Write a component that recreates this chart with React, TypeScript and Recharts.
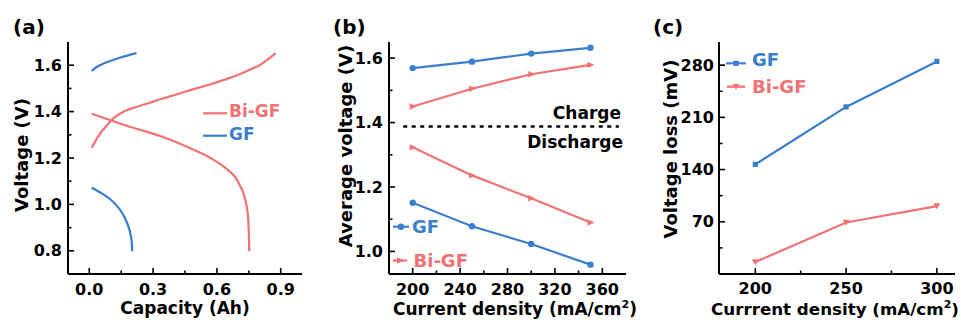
import React from 'react';
import { LineChart, Line, XAxis, YAxis, ReferenceLine } from 'recharts';

const FONT = '"DejaVu Sans", Verdana, sans-serif';
const BLUE = '#3a7ecd';
const RED = '#f07272';

// ---------- (a) charge / discharge curves ----------
const aGfChargeCap = [0.011, 0.03, 0.07, 0.147, 0.222];
const aGfChargeV = [1.575, 1.589, 1.608, 1.633, 1.652];
const aGfDischargeCap = [0.011, 0.04, 0.07, 0.1, 0.125, 0.145, 0.162, 0.176, 0.187, 0.195, 0.2, 0.202];
const aGfDischargeV = [1.072, 1.058, 1.041, 1.021, 0.999, 0.976, 0.951, 0.924, 0.896, 0.866, 0.834, 0.798];
const aBiChargeCap = [0.011, 0.03, 0.054, 0.08, 0.1, 0.124, 0.15, 0.179, 0.225, 0.28, 0.333, 0.41, 0.488, 0.57, 0.644, 0.71, 0.767, 0.8, 0.83, 0.855, 0.876];
const aBiChargeV = [1.244, 1.275, 1.309, 1.338, 1.359, 1.378, 1.394, 1.407, 1.421, 1.437, 1.453, 1.474, 1.496, 1.518, 1.54, 1.562, 1.586, 1.6, 1.619, 1.636, 1.652];
const aBiDischargeCap = [0.011, 0.1, 0.179, 0.26, 0.333, 0.41, 0.488, 0.54, 0.581, 0.62, 0.659, 0.688, 0.706, 0.722, 0.733, 0.741, 0.746, 0.75, 0.752];
const aBiDischargeV = [1.391, 1.363, 1.338, 1.316, 1.295, 1.268, 1.237, 1.215, 1.194, 1.171, 1.143, 1.115, 1.086, 1.055, 1.021, 0.985, 0.949, 0.877, 0.798];
const aXDomain = [-0.1, 1.0];
const aYDomain = [0.7, 1.7];
const aXTicks = [0, 0.15, 0.3, 0.45, 0.6, 0.75, 0.9];
const aXMajor = [0, 0.3, 0.6, 0.9];
const aYTicks = [0.8, 0.9, 1.0, 1.1, 1.2, 1.3, 1.4, 1.5, 1.6];
const aYMajor = [0.8, 1.0, 1.2, 1.4, 1.6];

// ---------- (b) average voltage ----------
const bCurrent = [200, 250, 300, 350];
const bGfCharge = [1.569, 1.589, 1.614, 1.632];
const bBiCharge = [1.45, 1.505, 1.55, 1.579];
const bBiDischarge = [1.323, 1.236, 1.165, 1.09];
const bGfDischarge = [1.151, 1.078, 1.023, 0.959];
const bDivide = 1.388;
const bDivideFrom = 192;
const bDivideTo = 374;
const bXDomain = [180, 380];
const bYDomain = [0.93, 1.65];
const bXTicks = [200, 220, 240, 260, 280, 300, 320, 340, 360];
const bXMajor = [200, 240, 280, 320, 360];
const bYTicks = [1.0, 1.1, 1.2, 1.3, 1.4, 1.5, 1.6];
const bYMajor = [1.0, 1.2, 1.4, 1.6];

// ---------- (c) voltage loss ----------
const cCurrent = [200, 250, 300];
const cGfLoss = [147, 224, 285];
const cBiLoss = [16, 69, 91];
const cXDomain = [180, 310];
const cYDomain = [0, 311];
const cXTicks = [200, 225, 250, 275, 300];
const cXMajor = [200, 250, 300];
const cYTicks = [35, 70, 105, 140, 175, 210, 245, 280];
const cYMajor = [70, 140, 210, 280];

const zip = (xs: number[], ys: number[]) => xs.map((x, i) => ({ x, y: ys[i] }));

const isIn = (arr: number[], v: number) => arr.some((m) => Math.abs(m - v) < 1e-9);

const makeBottomTick = (majors: number[], fmt: (v: number) => string, dy: number) => (props: any) => {
  const { x, y, payload } = props;
  const v = payload.value;
  const major = isIn(majors, v);
  return (
    <g>
      <line x1={x} x2={x} y1={y} y2={y - (major ? 6 : 3.5)} stroke="#000" strokeWidth={1.6} />
      {major && (
        <text x={x} y={y + dy} textAnchor="middle" dominantBaseline="central" fontFamily={FONT} fontWeight="bold" fontSize={16} fill="#000">
          {fmt(v)}
        </text>
      )}
    </g>
  );
};

const makeLeftTick = (majors: number[], fmt: (v: number) => string, dx: number) => (props: any) => {
  const { x, y, payload } = props;
  const v = payload.value;
  const major = isIn(majors, v);
  return (
    <g>
      <line x1={x} x2={x + (major ? 6 : 3.5)} y1={y} y2={y} stroke="#000" strokeWidth={1.6} />
      {major && (
        <text x={x - dx} y={y} textAnchor="end" dominantBaseline="central" fontFamily={FONT} fontWeight="bold" fontSize={16} fill="#000">
          {fmt(v)}
        </text>
      )}
    </g>
  );
};

const frameLine = { stroke: '#000', strokeWidth: 2 };

const FrameAxes = (xDomain: number[], yDomain: number[]) => [
  <XAxis key="xt" xAxisId="top" orientation="top" type="number" domain={xDomain} allowDataOverflow height={0} tick={false} tickLine={false} axisLine={frameLine} />,
  <YAxis key="yr" yAxisId="right" orientation="right" type="number" domain={yDomain} allowDataOverflow width={0} tick={false} tickLine={false} axisLine={frameLine} />,
];

const circleDot = (color: string) => (p: any) => <circle key={`c${p.index}`} cx={p.cx} cy={p.cy} r={3.2} fill={color} stroke="none" />;
const rightTriDot = (color: string) => (p: any) => (
  <path key={`r${p.index}`} d={`M${p.cx + 4},${p.cy} L${p.cx - 3},${p.cy - 3.2} L${p.cx - 3},${p.cy + 3.2} Z`} fill={color} />
);
const squareDot = (color: string) => (p: any) => <rect key={`s${p.index}`} x={p.cx - 2.6} y={p.cy - 2.6} width={5.2} height={5.2} fill={color} />;
const downTriDot = (color: string) => (p: any) => (
  <path key={`d${p.index}`} d={`M${p.cx - 3.5},${p.cy - 2.8} L${p.cx + 3.5},${p.cy - 2.8} L${p.cx},${p.cy + 3.2} Z`} fill={color} />
);

const txt = { fontFamily: FONT, fontWeight: 'bold' as const };

const bData = bCurrent.map((c, i) => ({ c, gfC: bGfCharge[i], biC: bBiCharge[i], biD: bBiDischarge[i], gfD: bGfDischarge[i] }));
const cData = cCurrent.map((c, i) => ({ c, gf: cGfLoss[i], bi: cBiLoss[i] }));

export default function App() {
  return (
    <div style={{ position: 'absolute', left: 0, top: 0, width: 961, height: 322, background: '#fff', overflow: 'hidden' }}>
      {/* Panel (a) */}
      <div style={{ position: 'absolute', left: 0, top: 0 }}>
        <LineChart width={320} height={322} margin={{ top: 42, right: 18, bottom: 0, left: 0 }}>
          <XAxis dataKey="x" type="number" domain={aXDomain} allowDataOverflow ticks={aXTicks} interval={0} height={48}
            tickSize={0} tickMargin={0} tickLine={false} axisLine={frameLine} tick={makeBottomTick(aXMajor, (v) => v.toFixed(1), 15)} />
          <YAxis type="number" domain={aYDomain} allowDataOverflow ticks={aYTicks} interval={0} width={68}
            tickSize={0} tickMargin={0} tickLine={false} axisLine={frameLine} tick={makeLeftTick(aYMajor, (v) => v.toFixed(1), 6)} />
          {FrameAxes(aXDomain, aYDomain)}
          <Line data={zip(aBiChargeCap, aBiChargeV)} dataKey="y" type="monotone" stroke={RED} strokeWidth={2.2} dot={false} isAnimationActive={false} />
          <Line data={zip(aBiDischargeCap, aBiDischargeV)} dataKey="y" type="monotone" stroke={RED} strokeWidth={2.2} dot={false} isAnimationActive={false} />
          <Line data={zip(aGfChargeCap, aGfChargeV)} dataKey="y" type="monotone" stroke={BLUE} strokeWidth={2.2} dot={false} isAnimationActive={false} />
          <Line data={zip(aGfDischargeCap, aGfDischargeV)} dataKey="y" type="monotone" stroke={BLUE} strokeWidth={2.2} dot={false} isAnimationActive={false} />
        </LineChart>
      </div>

      {/* Panel (b) */}
      <div style={{ position: 'absolute', left: 320, top: 0 }}>
        <LineChart width={320} height={322} data={bData} margin={{ top: 42, right: 14, bottom: 0, left: 0 }}>
          <XAxis dataKey="c" type="number" domain={bXDomain} allowDataOverflow ticks={bXTicks} interval={0} height={48}
            tickSize={0} tickMargin={0} tickLine={false} axisLine={frameLine} tick={makeBottomTick(bXMajor, (v) => String(v), 15)} />
          <YAxis type="number" domain={bYDomain} allowDataOverflow ticks={bYTicks} interval={0} width={69}
            tickSize={0} tickMargin={0} tickLine={false} axisLine={frameLine} tick={makeLeftTick(bYMajor, (v) => v.toFixed(1), 6)} />
          {FrameAxes(bXDomain, bYDomain)}
          <ReferenceLine segment={[{ x: bDivideFrom, y: bDivide }, { x: bDivideTo, y: bDivide }]} stroke="#000" strokeWidth={2.5} strokeDasharray="4 4.5" />
          <Line dataKey="gfC" type="linear" stroke={BLUE} strokeWidth={2.2} dot={circleDot(BLUE)} isAnimationActive={false} />
          <Line dataKey="biC" type="linear" stroke={RED} strokeWidth={2.2} dot={rightTriDot(RED)} isAnimationActive={false} />
          <Line dataKey="biD" type="linear" stroke={RED} strokeWidth={2.2} dot={rightTriDot(RED)} isAnimationActive={false} />
          <Line dataKey="gfD" type="linear" stroke={BLUE} strokeWidth={2.2} dot={circleDot(BLUE)} isAnimationActive={false} />
        </LineChart>
      </div>

      {/* Panel (c) */}
      <div style={{ position: 'absolute', left: 640, top: 0 }}>
        <LineChart width={321} height={322} data={cData} margin={{ top: 42, right: 6, bottom: 0, left: 0 }}>
          <XAxis dataKey="c" type="number" domain={cXDomain} allowDataOverflow ticks={cXTicks} interval={0} height={48}
            tickSize={0} tickMargin={0} tickLine={false} axisLine={frameLine} tick={makeBottomTick(cXMajor, (v) => String(v), 14)} />
          <YAxis type="number" domain={cYDomain} allowDataOverflow ticks={cYTicks} interval={0} width={79}
            tickSize={0} tickMargin={0} tickLine={false} axisLine={frameLine} tick={makeLeftTick(cYMajor, (v) => String(v), 5)} />
          {FrameAxes(cXDomain, cYDomain)}
          <Line dataKey="gf" type="linear" stroke={BLUE} strokeWidth={2.2} dot={squareDot(BLUE)} isAnimationActive={false} />
          <Line dataKey="bi" type="linear" stroke={RED} strokeWidth={2.2} dot={downTriDot(RED)} isAnimationActive={false} />
        </LineChart>
      </div>

      {/* Text overlay: panel letters, axis titles, legends */}
      <svg width={961} height={322} style={{ position: 'absolute', left: 0, top: 0, pointerEvents: 'none' }}>
        <text x={13} y={34} fontSize={20} {...txt}>(a)</text>
        <text x={333} y={34} fontSize={20} {...txt}>(b)</text>
        <text x={653} y={34} fontSize={20} {...txt}>(c)</text>

        {/* axis titles */}
        <text x={185} y={314} fontSize={17} textAnchor="middle" {...txt}>Capacity (Ah)</text>
        <text x={21.7} y={155} fontSize={18} textAnchor="middle" dominantBaseline="central" transform="rotate(-90 21.7 155)" {...txt}>Voltage (V)</text>

        <text x={515} y={315} fontSize={17} textAnchor="middle" {...txt}>
          Current density (mA/cm<tspan dy={-7} fontSize={11}>2</tspan><tspan dy={7}>)</tspan>
        </text>
        <text x={345} y={146} fontSize={18} textAnchor="middle" dominantBaseline="central" transform="rotate(-90 345 146)" {...txt}>Average voltage (V)</text>

        <text x={835} y={315} fontSize={16.7} textAnchor="middle" {...txt}>
          Currrent density (mA/cm<tspan dy={-7} fontSize={11}>2</tspan><tspan dy={7}>)</tspan>
        </text>
        <text x={670} y={149} fontSize={18} textAnchor="middle" dominantBaseline="central" transform="rotate(-90 670 149)" {...txt}>Voltage loss (mV)</text>

        {/* legend (a) */}
        <line x1={203} x2={227} y1={113.3} y2={113.3} stroke={RED} strokeWidth={2.2} />
        <text x={229} y={117} fontSize={17} fill={RED} {...txt}>Bi-GF</text>
        <line x1={203} x2={227} y1={135.7} y2={135.7} stroke={BLUE} strokeWidth={2.2} />
        <text x={229} y={140} fontSize={17} fill={BLUE} {...txt}>GF</text>

        {/* legend (b) */}
        <line x1={393} x2={409} y1={226.7} y2={226.7} stroke={BLUE} strokeWidth={2.2} />
        <circle cx={401} cy={226.7} r={3.2} fill={BLUE} />
        <text x={412} y={233.3} fontSize={18} fill={BLUE} {...txt}>GF</text>
        <line x1={393} x2={407} y1={260.5} y2={260.5} stroke={RED} strokeWidth={2.2} />
        <path d="M404,260.5 L397,257.3 L397,263.7 Z" fill={RED} />
        <text x={413.5} y={267} fontSize={18} fill={RED} {...txt}>Bi-GF</text>

        {/* charge / discharge labels (b) */}
        <text x={621} y={119.3} fontSize={17} textAnchor="end" {...txt}>Charge</text>
        <text x={623} y={148.3} fontSize={17} textAnchor="end" {...txt}>Discharge</text>

        {/* legend (c) */}
        <line x1={726} x2={746} y1={63.3} y2={63.3} stroke={BLUE} strokeWidth={2.2} />
        <rect x={733.4} y={60.7} width={5.2} height={5.2} fill={BLUE} />
        <text x={752} y={66} fontSize={18} fill={BLUE} {...txt}>GF</text>
        <line x1={727} x2={745} y1={86.7} y2={86.7} stroke={RED} strokeWidth={2.2} />
        <path d="M732.5,83.9 L739.5,83.9 L736,89.9 Z" fill={RED} />
        <text x={752} y={92.7} fontSize={18} fill={RED} {...txt}>Bi-GF</text>
      </svg>
    </div>
  );
}
